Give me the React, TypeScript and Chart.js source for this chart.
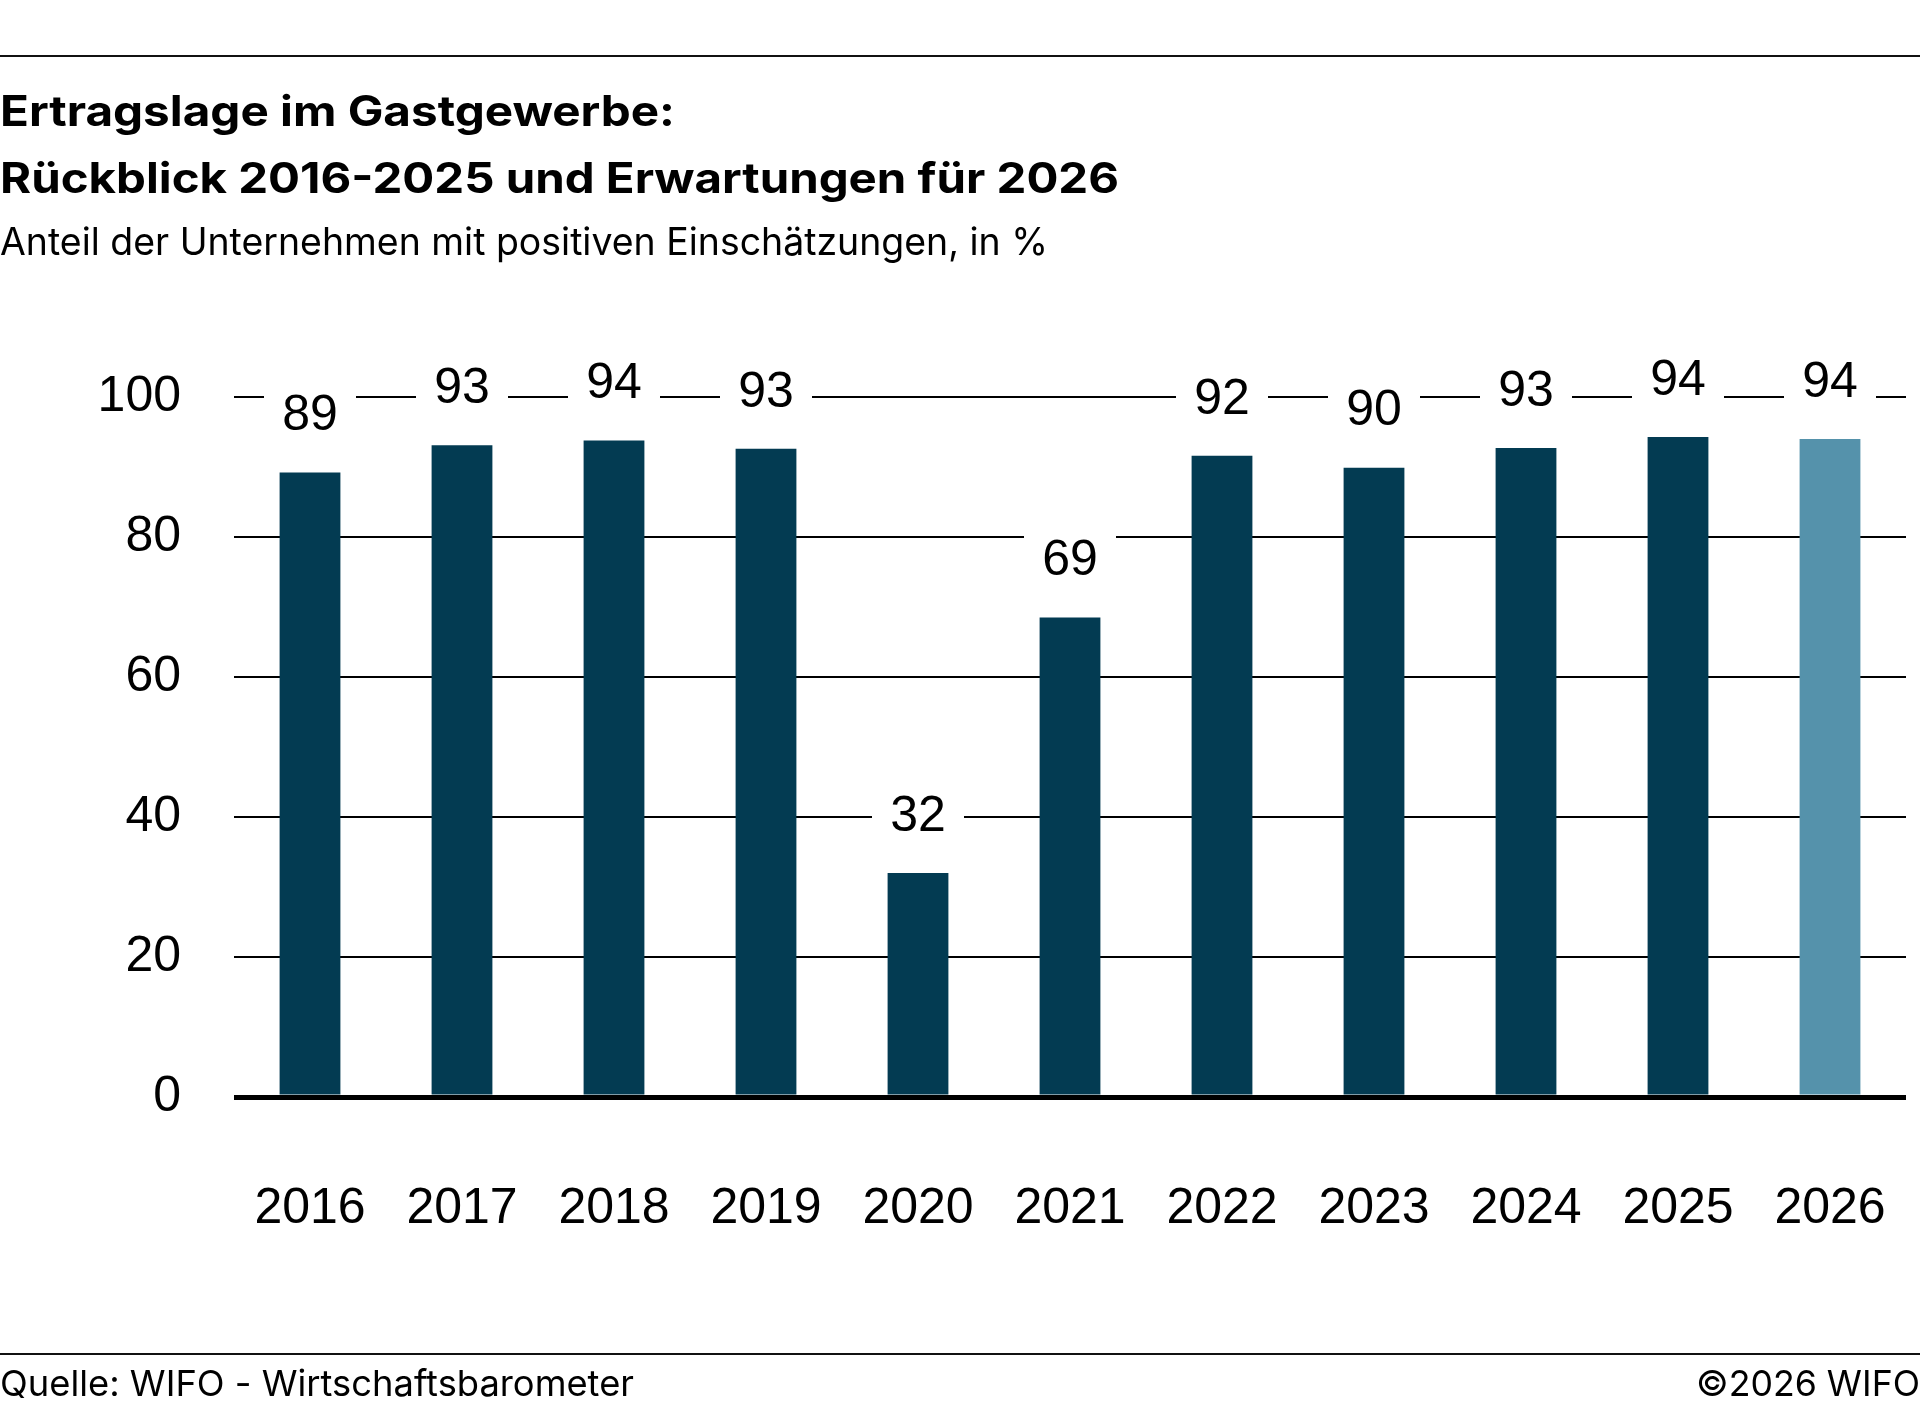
import React, { useEffect, useRef } from "react";
import { Chart, registerables } from "chart.js";

Chart.register(...registerables);

// ---------- data ----------
const years = ["2016", "2017", "2018", "2019", "2020", "2021", "2022", "2023", "2024", "2025", "2026"];
const shares = [89.2, 93.1, 93.8, 92.6, 32.0, 68.5, 91.6, 89.9, 92.7, 94.3, 94.0];
const valueLabels = ["89", "93", "94", "93", "32", "69", "92", "90", "93", "94", "94"];
const yTicks = [0, 20, 40, 60, 80, 100];
const forecastYear = "2026";

const titleLines = ["Ertragslage im Gastgewerbe:", "Rückblick 2016-2025 und Erwartungen für 2026"];
const subtitle = "Anteil der Unternehmen mit positiven Einschätzungen, in %";
const sourceNote = "Quelle: WIFO - Wirtschaftsbarometer";
const copyright = "©2026 WIFO";

// ---------- style ----------
const DARK = "#033B52";
const LIGHT = "#5592AB";
const W = 1920;
const H = 1416;
const CHART_FONT = "'Liberation Sans', Arial, sans-serif";
const TEXT_FONT = "Inter, 'Noto Sans', sans-serif";

function drawFitted(
  ctx: CanvasRenderingContext2D,
  text: string,
  x: number,
  y: number,
  font: string,
  targetW: number,
  align: CanvasTextAlign
) {
  ctx.save();
  ctx.font = font;
  const w = ctx.measureText(text).width;
  let sx = targetW / w;
  sx = Math.max(0.85, Math.min(1.15, sx));
  ctx.translate(x, y);
  ctx.scale(sx, 1);
  ctx.textAlign = align;
  ctx.textBaseline = "alphabetic";
  ctx.fillStyle = "#000";
  ctx.fillText(text, 0, 0);
  ctx.restore();
}

const pageTextPlugin = {
  id: "pageText",
  afterDraw(chart: any) {
    const ctx: CanvasRenderingContext2D = chart.ctx;
    ctx.save();
    ctx.strokeStyle = "#111";
    ctx.lineWidth = 2;
    ctx.beginPath();
    ctx.moveTo(0, 56);
    ctx.lineTo(W, 56);
    ctx.moveTo(0, 1354);
    ctx.lineTo(W, 1354);
    ctx.stroke();
    ctx.restore();

    drawFitted(ctx, titleLines[0], 0, 126, `bold 42px ${TEXT_FONT}`, 675, "left");
    drawFitted(ctx, titleLines[1], 0, 193, `bold 42px ${TEXT_FONT}`, 1119, "left");
    drawFitted(ctx, subtitle, 0, 255, `38px ${TEXT_FONT}`, 1048, "left");
    drawFitted(ctx, sourceNote, 0, 1396, `36px ${TEXT_FONT}`, 634, "left");
    drawFitted(ctx, copyright, W, 1396, `36px ${TEXT_FONT}`, 224, "right");
  },
};

const valueLabelPlugin = {
  id: "valueLabels",
  afterDatasetsDraw(chart: any) {
    const ctx: CanvasRenderingContext2D = chart.ctx;
    const meta = chart.getDatasetMeta(0);
    ctx.save();
    meta.data.forEach((bar: any, i: number) => {
      const cx = bar.x;
      const cy = bar.y - 56;
      ctx.fillStyle = "#fff";
      ctx.fillRect(cx - 46, cy - 28, 92, 56);
      ctx.fillStyle = "#000";
      ctx.font = `50px ${CHART_FONT}`;
      ctx.textAlign = "center";
      ctx.textBaseline = "middle";
      ctx.fillText(valueLabels[i], cx, cy);
    });
    ctx.restore();
  },
};

export default function App() {
  const canvasRef = useRef<HTMLCanvasElement | null>(null);

  useEffect(() => {
    const canvas = canvasRef.current;
    if (!canvas) return;
    const chart = new Chart(canvas, {
      type: "bar",
      data: {
        labels: years,
        datasets: [
          {
            data: shares,
            backgroundColor: years.map((y) => (y === forecastYear ? LIGHT : DARK)),
            borderWidth: 0,
            barPercentage: 0.4,
            categoryPercentage: 1.0,
          },
        ],
      },
      options: {
        animation: false,
        responsive: false,
        devicePixelRatio: 1,
        layout: { padding: { top: 397, right: 14, bottom: 180, left: 0 } },
        plugins: {
          legend: { display: false },
          tooltip: { enabled: false },
          title: { display: false },
        },
        scales: {
          x: {
            grid: { display: false, drawTicks: true, tickLength: 82 },
            border: { display: false },
            ticks: {
              color: "#000",
              font: { family: CHART_FONT, size: 50 },
              padding: 0,
              maxRotation: 0,
              autoSkip: false,
            },
            afterFit: (s: any) => {
              s.height = 139;
            },
          },
          y: {
            min: 0,
            max: 100,
            afterBuildTicks: (s: any) => {
              s.ticks = yTicks.map((v) => ({ value: v }));
            },
            border: { display: false },
            grid: {
              color: "#000",
              lineWidth: (c: any) => (c.tick && c.tick.value === 0 ? 5 : 2),
              drawTicks: false,
            },
            ticks: {
              color: "#000",
              font: { family: CHART_FONT, size: 50 },
              padding: 53,
            },
            afterFit: (s: any) => {
              s.width = 234;
            },
          },
        },
      },
      plugins: [valueLabelPlugin, pageTextPlugin],
    });
    return () => chart.destroy();
  }, []);

  return (
    <div style={{ position: "absolute", left: 0, top: 0, width: W, height: H, background: "#fff" }}>
      <canvas ref={canvasRef} width={W} height={H} style={{ display: "block", width: W, height: H }} />
    </div>
  );
}
